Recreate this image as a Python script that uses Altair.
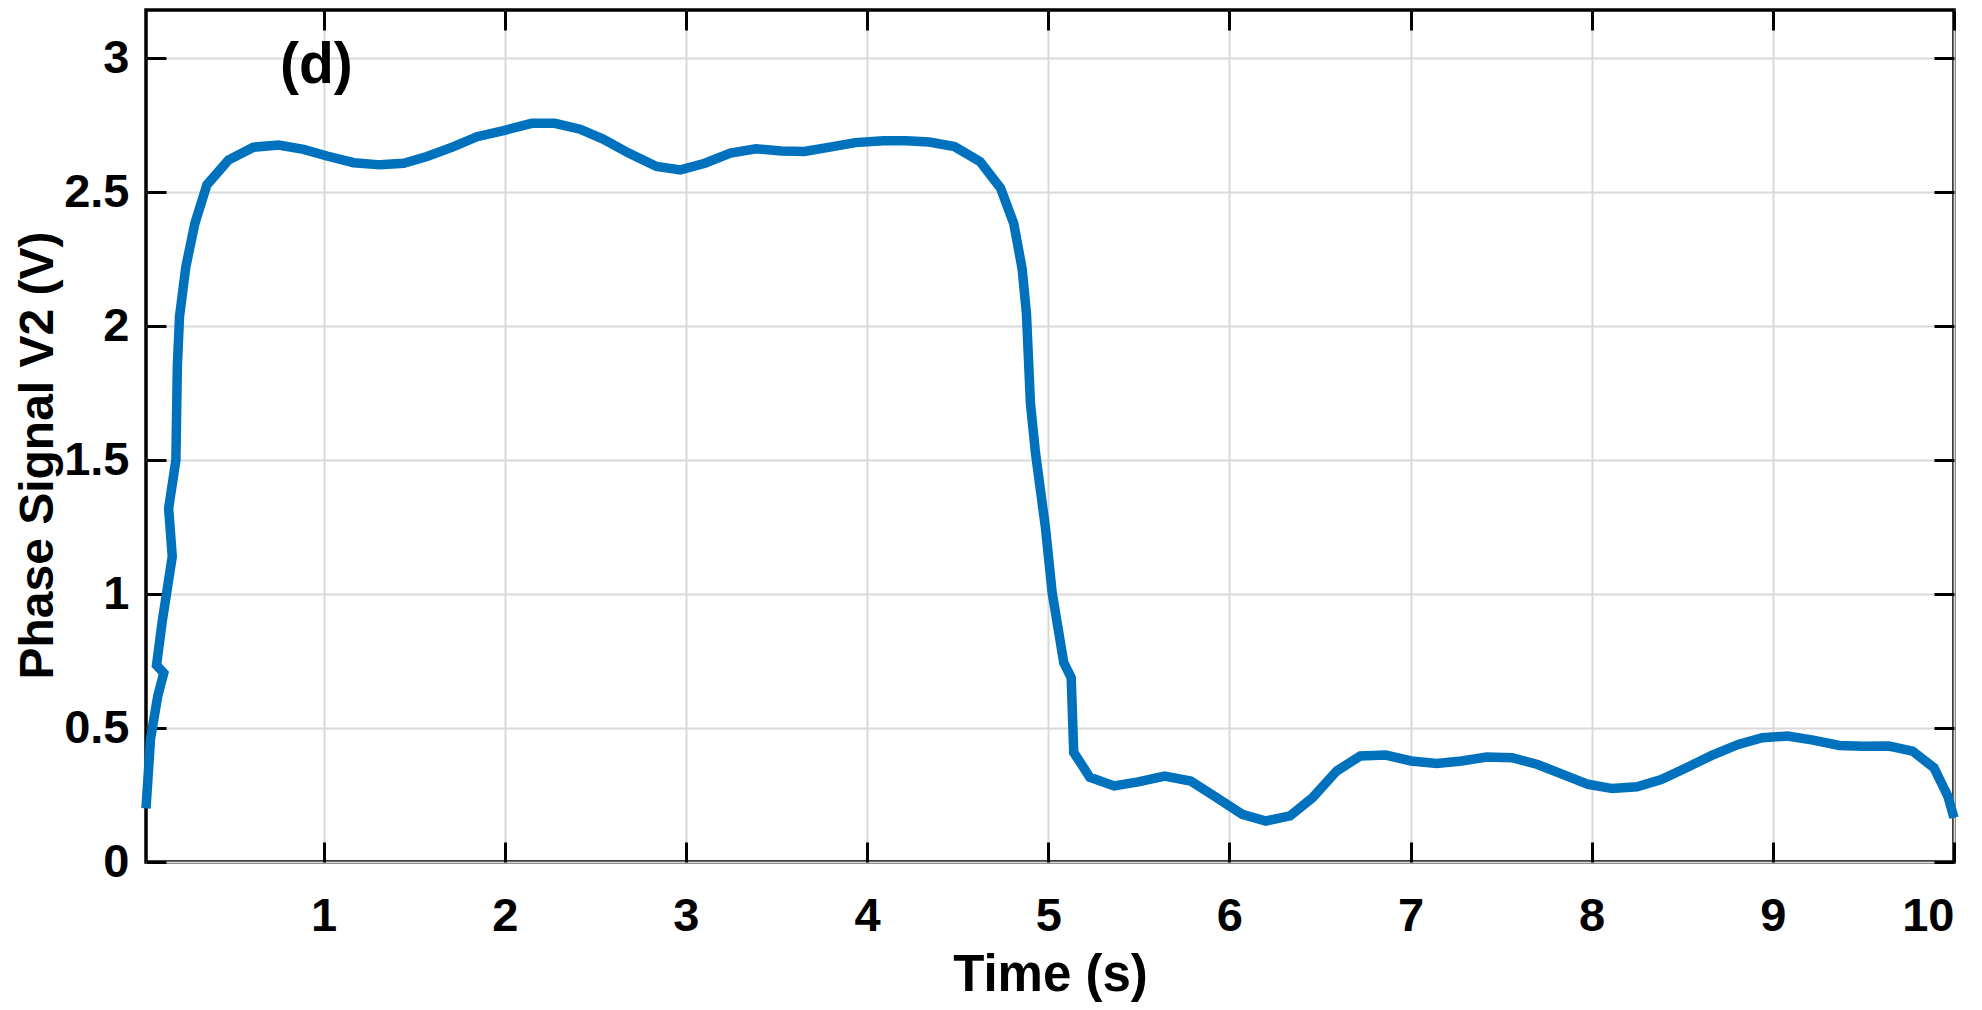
import altair as alt
import pandas as pd

# Time (s) and phase signal V2 (V), in drawing order
time_s = [0.020, 0.045, 0.085, 0.118, 0.078, 0.110, 0.165, 0.145, 0.185, 0.193,
          0.205, 0.240, 0.290, 0.356, 0.475, 0.613, 0.752, 0.890, 1.019, 1.166,
          1.313, 1.442, 1.571, 1.718, 1.847, 1.994, 2.149, 2.276, 2.416, 2.543,
          2.684, 2.838, 2.970, 3.105, 3.246, 3.387, 3.527, 3.654, 3.795, 3.935,
          4.090, 4.215, 4.343, 4.483, 4.624, 4.737, 4.810, 4.856, 4.880, 4.902,
          4.930, 4.985, 5.022, 5.086, 5.127, 5.141, 5.230, 5.364, 5.497, 5.643,
          5.786, 5.916, 6.071, 6.202, 6.335, 6.459, 6.593, 6.723, 6.863, 7.003,
          7.145, 7.282, 7.421, 7.561, 7.701, 7.840, 7.980, 8.114, 8.250, 8.384,
          8.523, 8.663, 8.809, 8.942, 9.082, 9.222, 9.367, 9.501, 9.641, 9.771,
          9.889, 9.966, 10.000]
v2 = [0.200, 0.460, 0.620, 0.705, 0.735, 0.900, 1.140, 1.320, 1.500, 1.850,
      2.036, 2.222, 2.384, 2.527, 2.620, 2.668, 2.676, 2.660, 2.635, 2.610,
      2.602, 2.608, 2.633, 2.670, 2.707, 2.730, 2.757, 2.757, 2.735, 2.698,
      2.646, 2.596, 2.583, 2.608, 2.646, 2.662, 2.654, 2.652, 2.668, 2.685,
      2.692, 2.692, 2.687, 2.670, 2.614, 2.515, 2.383, 2.215, 2.047, 1.712,
      1.526, 1.247, 1.005, 0.744, 0.688, 0.409, 0.316, 0.284, 0.299, 0.321,
      0.302, 0.246, 0.178, 0.153, 0.172, 0.240, 0.340, 0.396, 0.399, 0.377,
      0.368, 0.377, 0.392, 0.389, 0.364, 0.327, 0.290, 0.274, 0.281, 0.308,
      0.352, 0.398, 0.439, 0.464, 0.470, 0.455, 0.435, 0.432, 0.433, 0.414,
      0.352, 0.246, 0.165]

x_ticks = [1, 2, 3, 4, 5, 6, 7, 8, 9, 10]
y_ticks = [0, 0.5, 1, 1.5, 2, 2.5, 3]
x_domain = [0.02, 10]
y_domain = [0, 3.18]

panel_label = ["(d)"]
panel_x = [0.96]
panel_y = [2.907]

df = pd.DataFrame({"t": time_s, "v": v2, "i": list(range(len(time_s)))})
lab = pd.DataFrame({"t": panel_x, "v": panel_y, "txt": panel_label})

FONT = "Liberation Sans"

xs = alt.Scale(domain=x_domain, nice=False, zero=False)
ys = alt.Scale(domain=y_domain, nice=False, zero=False)

line = alt.Chart(df).mark_line(color="#0072BD", strokeWidth=9.5).encode(
    x=alt.X("t:Q", scale=xs, axis=alt.Axis(
        orient="bottom", values=x_ticks, format="d", offset=-20, tickSize=20,
        tickWidth=3, tickColor="black", domain=False, grid=True,
        gridColor="#d9d9d9", gridWidth=2, labelFont=FONT, labelFontSize=47,
        labelFontWeight="bold", labelColor="black", labelPadding=31,
        title="Time (s)", titleFont=FONT, titleFontSize=51,
        titleFontWeight="bold", titleColor="black",
        titleBaseline="alphabetic", titleY=148)),
    y=alt.Y("v:Q", scale=ys, axis=alt.Axis(
        orient="left", values=y_ticks, format="~g", offset=-20, tickSize=20,
        tickWidth=3, tickColor="black", domain=False, grid=True,
        gridColor="#d9d9d9", gridWidth=2, labelFont=FONT, labelFontSize=47,
        labelFontWeight="bold", labelColor="black", labelPadding=17,
        title="Phase Signal V2 (V)", titleFont=FONT, titleFontSize=48,
        titleFontWeight="bold", titleColor="black",
        titleBaseline="alphabetic", titleAngle=270, titleAlign="center",
        titleX=-114, titleY=445)),
    order="i:Q",
)

text = alt.Chart(lab).mark_text(
    font=FONT, fontSize=57, fontWeight="bold", color="black",
    align="center", baseline="alphabetic"
).encode(
    x=alt.X("t:Q", scale=xs, axis=alt.Axis(
        orient="top", values=x_ticks, offset=-20, tickSize=20, tickWidth=3,
        tickColor="black", domain=False, grid=False, labels=False, title=None)),
    y=alt.Y("v:Q", scale=ys, axis=alt.Axis(
        orient="right", values=y_ticks, offset=-20, tickSize=20, tickWidth=3,
        tickColor="black", domain=False, grid=False, labels=False, title=None)),
    text="txt:N",
)

chart = alt.layer(line, text).resolve_axis(
    x="independent", y="independent"
).properties(
    width=1808, height=852,
    padding={"left": 138, "top": 2, "right": 20, "bottom": 140},
    autosize=alt.AutoSizeParams(type="none"),
    background="white",
    view=alt.ViewBackground(stroke="black", strokeWidth=3.5),
).configure_view(stroke="black", strokeWidth=3.5)

chart.save("out.html", embed_options={"renderer": "svg", "actions": False})
